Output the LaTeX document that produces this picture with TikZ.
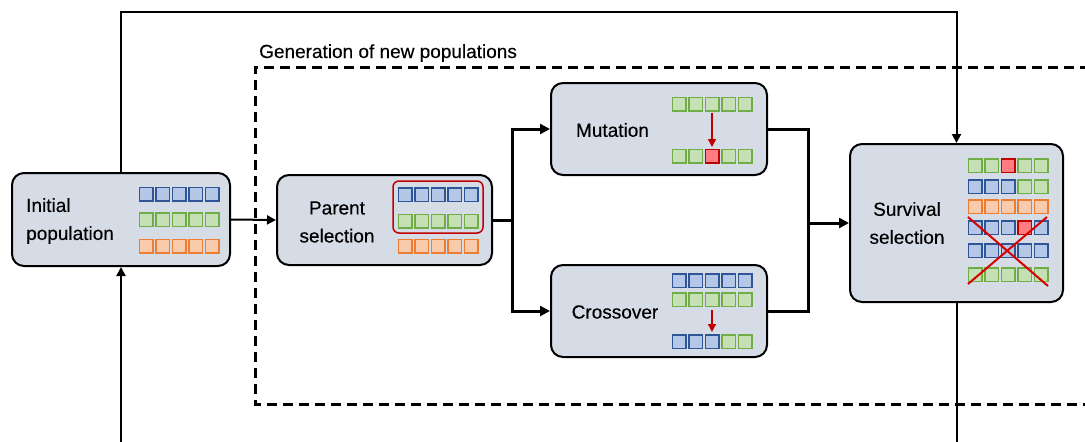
\documentclass[tikz,border=0pt]{standalone}
\usepackage{fontspec}
\setmainfont{Liberation Sans}[FakeBold=0.3]
\usetikzlibrary{arrows.meta}
\definecolor{boxfill}{HTML}{D6DCE5}
\definecolor{cfb}{HTML}{B4C7E7}\definecolor{cdb}{HTML}{2F5597}
\definecolor{cfg}{HTML}{C5E0B4}\definecolor{cdg}{HTML}{70AD47}
\definecolor{cfo}{HTML}{F8CBAD}\definecolor{cdo}{HTML}{ED7D31}
\definecolor{cfr}{HTML}{FF7C80}\definecolor{cdr}{HTML}{C00000}
\definecolor{redline}{HTML}{C00000}
\tikzset{
  stagebox/.style={draw=black, line width=2pt, fill=boxfill, rounded corners=12pt, inner sep=0pt},
  lbl/.style={font=\fontsize{19}{28}\selectfont, inner sep=0pt, text=black},
  cell/.style={fill=cf#1, draw=cd#1, line width=1.5pt},
  thinarrow/.style={line width=2pt, -{Triangle[length=9pt,width=9pt]}},
  thinline/.style={line width=2pt},
  boldline/.style={line width=3pt},
  boldarrow/.style={line width=3pt, -{Triangle[length=10pt,width=10pt]}},
  redarrow/.style={draw=redline, line width=1.5pt, -{Triangle[length=8pt,width=8pt]}},
  dashbox/.style={line width=3pt, dash pattern=on 10pt off 6pt},
}
\newcommand\cellrow[3]{%
  \foreach \t [count=\i from 0] in {#3} {%
    \draw[cell=\t] ({#1+16.5*\i-6.75},{#2-6.75}) rectangle ++(13.5,13.5);}}
\begin{document}
\begin{tikzpicture}[x=1pt,y=-1pt]
\useasboundingbox (0,0) rectangle (1085,442);

% dashed region
\draw[dashbox] (1090,67) -- (255,67) -- (255,404) -- (1090,404);
\node[lbl, anchor=base west] (gen) at (259,58) {Generation of new populations};

% boxes
\node[stagebox, minimum width=218pt, minimum height=93pt] (init) at (121,219.5) {};
\node[stagebox, minimum width=215pt, minimum height=90pt] (parent) at (384.5,220) {};
\node[stagebox, minimum width=216pt, minimum height=92pt] (mut) at (659,129) {};
\node[stagebox, minimum width=216pt, minimum height=92pt] (cross) at (659,311) {};
\node[stagebox, minimum width=213pt, minimum height=158pt] (surv) at (956.5,223) {};

% labels
\node[lbl, align=left, anchor=west] (initT) at (26,221) {Initial\\population};
\node[lbl, align=center] (parT) at (337,222) {Parent\\selection};
\node[lbl] (mutT) at (612.5,130) {Mutation};
\node[lbl] (crossT) at (615,312) {Crossover};
\node[lbl, align=center] (survT) at (907,223) {Survival\\selection};

% population cells
\cellrow{146.3}{194}{b,b,b,b,b}
\cellrow{146.3}{219.5}{g,g,g,g,g}
\cellrow{146.3}{246}{o,o,o,o,o}

\cellrow{405}{194.5}{b,b,b,b,b}
\cellrow{405}{221}{g,g,g,g,g}
\cellrow{405}{246}{o,o,o,o,o}
\draw[draw=redline, line width=1.5pt, rounded corners=6pt] (393,181) rectangle (483,233);

\cellrow{679}{104}{g,g,g,g,g}
\cellrow{679}{156}{g,g,r,g,g}
\coordinate (ma) at (712,113);
\coordinate (mb) at (712,147);
\draw[redarrow] (ma) -- (mb);

\cellrow{679}{280.5}{b,b,b,b,b}
\cellrow{679}{299.5}{g,g,g,g,g}
\cellrow{679}{341.5}{b,b,b,g,g}
\coordinate (ca) at (712,310);
\coordinate (cb) at (712,332);
\draw[redarrow] (ca) -- (cb);

\cellrow{975}{165.5}{g,g,r,g,g}
\cellrow{975}{186.5}{b,b,b,g,g}
\cellrow{975}{206.5}{o,o,o,o,o}
\cellrow{975}{227.5}{b,b,b,r,b}
\cellrow{975}{250.5}{b,b,b,b,b}
\cellrow{975}{274.5}{g,g,g,g,g}
\coordinate (x1) at (968,217);
\coordinate (x2) at (1048,286);
\coordinate (x3) at (1047,217);
\coordinate (x4) at (968,284);
\draw[draw=red!85!black, line width=2pt] (x1) -- (x2);
\draw[draw=red!85!black, line width=2pt] (x3) -- (x4);

% connectors
\coordinate (top) at (0,12);
\coordinate (bot) at (0,443);
\draw[thinarrow] (init.north) -- (init.north |- top) -- (surv.north |- top) -- (surv.north);
\draw[thinarrow] (init.south |- bot) -- (init.south);
\draw[thinline] (surv.south) -- (surv.south |- bot);
\draw[thinarrow] (init.east) -- (parent.west);

\coordinate (split) at (512,220);
\draw[boldline] (parent.east) -- (split);
\draw[boldarrow] (split) |- (mut.west);
\draw[boldarrow] (split) |- (cross.west);

\coordinate (merge) at (808,223);
\draw[boldline] (mut.east) -| (merge);
\draw[boldline] (cross.east) -| (merge);
\draw[boldarrow] (merge) -- (surv.west);
\end{tikzpicture}
\end{document}
